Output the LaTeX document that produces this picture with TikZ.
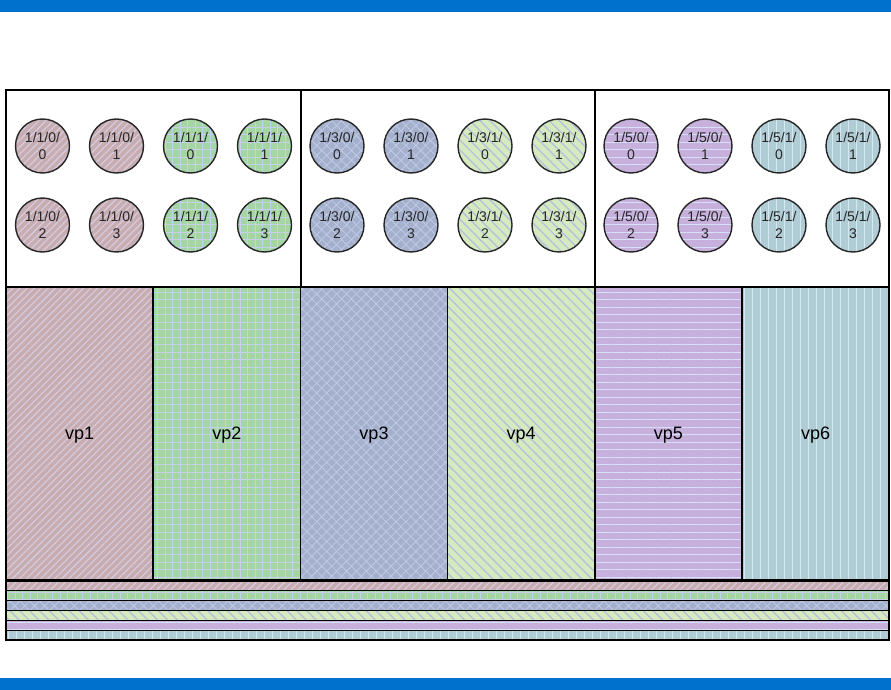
\documentclass[tikz,border=0pt]{standalone}
\usepackage{fontspec}
\setmainfont{Liberation Sans}
\usetikzlibrary{patterns.meta}
\definecolor{bandblue}{RGB}{0,114,206}
\definecolor{vpaback}{RGB}{200,173,176}
\definecolor{vpaline}{RGB}{214,204,228}
\definecolor{vpbback}{RGB}{164,214,164}
\definecolor{vpbline}{RGB}{200,208,240}
\definecolor{vpcback}{RGB}{164,176,204}
\definecolor{vpcline}{RGB}{190,202,230}
\definecolor{vpdback}{RGB}{214,234,192}
\definecolor{vpdline}{RGB}{182,194,218}
\definecolor{vpeback}{RGB}{200,176,220}
\definecolor{vpeline}{RGB}{214,224,248}
\definecolor{vpfback}{RGB}{176,204,212}
\definecolor{vpfline}{RGB}{212,232,240}
\tikzset{vpa/.style={preaction={fill=vpaback},pattern={Lines[angle=45,distance=5pt,line width=1.1pt]},pattern color=vpaline}}
\tikzset{vpb/.style={preaction={fill=vpbback},pattern={Hatch[angle=0,distance=7.5pt,line width=1pt]},pattern color=vpbline}}
\tikzset{vpc/.style={preaction={fill=vpcback},pattern={Hatch[angle=45,distance=7pt,line width=0.8pt]},pattern color=vpcline}}
\tikzset{vpd/.style={preaction={fill=vpdback},pattern={Lines[angle=-45,distance=7pt,line width=1.4pt]},pattern color=vpdline}}
\tikzset{vpe/.style={preaction={fill=vpeback},pattern={Lines[angle=0,distance=7.5pt,line width=1pt]},pattern color=vpeline}}
\tikzset{vpf/.style={preaction={fill=vpfback},pattern={Lines[angle=90,distance=8pt,line width=1pt]},pattern color=vpfline}}
\tikzset{port/.style={circle, draw=black!85, line width=1.4pt, minimum size=54pt, inner sep=0pt,
      align=center, font=\fontsize{14}{16.5}\selectfont, text=black!85}}
\tikzset{vpbox/.style={draw, line width=1.5pt, minimum width=147.2pt, minimum height=293pt,
      inner sep=0pt, text depth=0pt, font=\fontsize{18}{20}\selectfont}}
\tikzset{slotbox/.style={draw, line width=1.5pt}}
\tikzset{strip/.style={draw, line width=1.2pt}}

\begin{document}
\begin{tikzpicture}[x=1pt,y=-1pt]
    \useasboundingbox (0,0) rectangle (891,690);
    \fill[bandblue] (0,0) rectangle (891,12);
    \fill[bandblue] (0,678) rectangle (891,690);

    % slots
    \draw[slotbox] (6,90) rectangle (301,287);
    \draw[slotbox] (301,90) rectangle (595,287);
    \draw[slotbox] (595,90) rectangle (889,287);

    \node[port,vpa] (p1100) at (42.5,146) {1/1/0/\\0};
    \node[port,vpa] (p1101) at (116.5,146) {1/1/0/\\1};
    \node[port,vpb] (p1110) at (190.5,146) {1/1/1/\\0};
    \node[port,vpb] (p1111) at (264.5,146) {1/1/1/\\1};
    \node[port,vpa] (p1102) at (42.5,225) {1/1/0/\\2};
    \node[port,vpa] (p1103) at (116.5,225) {1/1/0/\\3};
    \node[port,vpb] (p1112) at (190.5,225) {1/1/1/\\2};
    \node[port,vpb] (p1113) at (264.5,225) {1/1/1/\\3};

    \node[port,vpc] (p1300) at (337,146) {1/3/0/\\0};
    \node[port,vpc] (p1301) at (411,146) {1/3/0/\\1};
    \node[port,vpd] (p1310) at (485,146) {1/3/1/\\0};
    \node[port,vpd] (p1311) at (559,146) {1/3/1/\\1};
    \node[port,vpc] (p1302) at (337,225) {1/3/0/\\2};
    \node[port,vpc] (p1303) at (411,225) {1/3/0/\\3};
    \node[port,vpd] (p1312) at (485,225) {1/3/1/\\2};
    \node[port,vpd] (p1313) at (559,225) {1/3/1/\\3};

    \node[port,vpe] (p1500) at (631,146) {1/5/0/\\0};
    \node[port,vpe] (p1501) at (705,146) {1/5/0/\\1};
    \node[port,vpf] (p1510) at (779,146) {1/5/1/\\0};
    \node[port,vpf] (p1511) at (853,146) {1/5/1/\\1};
    \node[port,vpe] (p1502) at (631,225) {1/5/0/\\2};
    \node[port,vpe] (p1503) at (705,225) {1/5/0/\\3};
    \node[port,vpf] (p1512) at (779,225) {1/5/1/\\2};
    \node[port,vpf] (p1513) at (853,225) {1/5/1/\\3};

    % virtual ports
    \node[vpbox,vpa] (vp1) at (79.6,433.5) {vp1};
    \node[vpbox,vpb] (vp2) at (226.8,433.5) {vp2};
    \node[vpbox,vpc] (vp3) at (374,433.5) {vp3};
    \node[vpbox,vpd] (vp4) at (521.2,433.5) {vp4};
    \node[vpbox,vpe] (vp5) at (668.4,433.5) {vp5};
    \node[vpbox,vpf] (vp6) at (815.6,433.5) {vp6};

    % strips
    \draw[strip,vpa] (6,581) rectangle (889,590.8);
    \draw[strip,vpb] (6,590.8) rectangle (889,600.7);
    \draw[strip,vpc] (6,600.7) rectangle (889,610.5);
    \draw[strip,vpd] (6,610.5) rectangle (889,620.3);
    \draw[strip,vpe] (6,620.3) rectangle (889,630.2);
    \draw[strip,vpf] (6,630.2) rectangle (889,640);
\end{tikzpicture}
\end{document}
